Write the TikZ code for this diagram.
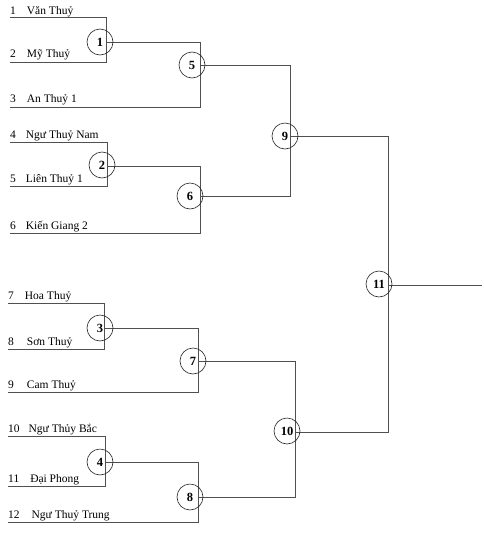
\documentclass[tikz,border=0pt]{standalone}
\usepackage{fontspec}
\setmainfont{Liberation Serif}
\usetikzlibrary{positioning}
\definecolor{linegray}{RGB}{80,80,80}
\tikzstyle{match} = [
    circle,
    minimum size=26pt,
    inner sep=0pt,
    draw=black!85,
    line width=0.6pt,
    font=\fontsize{12.5}{13}\selectfont\bfseries
]
\tikzstyle{team} = [
    anchor=base west,
    inner sep=0pt,
    font=\fontsize{11.5}{13}\selectfont
]
\tikzstyle{line} = [draw=linegray, line width=0.9pt]

\begin{document}
\begin{tikzpicture}[x=1pt, y=-1pt]
\useasboundingbox[fill=white] (0,0) rectangle (484,544);

% left ends of the team lines
\coordinate (t1) at (10,17.5);
\coordinate (t2) at (10,62);
\coordinate (t3) at (10,107);
\coordinate (t4) at (10,142);
\coordinate (t5) at (10,186);
\coordinate (t6) at (10,233);
\coordinate (t7) at (8,303);
\coordinate (t8) at (8,349);
\coordinate (t9) at (8,392);
\coordinate (t10) at (8,436);
\coordinate (t11) at (8,486);
\coordinate (t12) at (8,522);

% junctions of the bracket
\coordinate (j1) at (106,42);
\coordinate (j2) at (107,166);
\coordinate (j3) at (104,328);
\coordinate (j4) at (105,462);
\coordinate (j5) at (200,65);
\coordinate (j6) at (200,196);
\coordinate (j7) at (198,361);
\coordinate (j8) at (198,497);
\coordinate (j9) at (290,136);
\coordinate (j10) at (295,432);
\coordinate (j11) at (388,285);
\coordinate (win) at (482,285);

% team names
\node (n1) [team] at (10,14.5) {1\hspace{11pt}Văn Thuỷ};
\node (n2) [team] at (10,57.5) {2\hspace{11pt}Mỹ Thuỷ};
\node (n3) [team] at (10,102) {3\hspace{11pt}An Thuỷ 1};
\node (n4) [team] at (10,138) {4\hspace{10pt}Ngư Thuỷ Nam};
\node (n5) [team] at (10,182) {5\hspace{10pt}Liên Thuỷ 1};
\node (n6) [team] at (10,229) {6\hspace{10pt}Kiến Giang 2};
\node (n7) [team] at (8,299) {7\hspace{11pt}Hoa Thuỷ};
\node (n8) [team] at (8,345) {8\hspace{13pt}Sơn Thuỷ};
\node (n9) [team] at (8,388) {9\hspace{13pt}Cam Thuỷ};
\node (n10) [team] at (8,432) {10\hspace{9pt}Ngư Thủy Bắc};
\node (n11) [team] at (8,482) {11\hspace{11pt}Đại Phong};
\node (n12) [team] at (8,518) {12\hspace{12pt}Ngư Thuỷ Trung};

% bracket lines
\draw [line] (t1) -| (j1);
\draw [line] (t2) -| (j1);
\draw [line] (j1) -| (j5);
\draw [line] (t3) -| (j5);
\draw [line] (t4) -| (j2);
\draw [line] (t5) -| (j2);
\draw [line] (j2) -| (j6);
\draw [line] (t6) -| (j6);
\draw [line] (t7) -| (j3);
\draw [line] (t8) -| (j3);
\draw [line] (j3) -| (j7);
\draw [line] (t9) -| (j7);
\draw [line] (t10) -| (j4);
\draw [line] (t11) -| (j4);
\draw [line] (j4) -| (j8);
\draw [line] (t12) -| (j8);
\draw [line] (j5) -| (j9);
\draw [line] (j6) -| (j9);
\draw [line] (j7) -| (j10);
\draw [line] (j8) -| (j10);
\draw [line] (j9) -| (j11);
\draw [line] (j10) -| (j11);
\draw [line] (j11) -- (win);

% match circles
\node (m1) [match] at (100,42) {1};
\node (m2) [match] at (102,165) {2};
\node (m3) [match] at (100,328) {3};
\node (m4) [match] at (100,462) {4};
\node (m5) [match] at (192,65) {5};
\node (m6) [match] at (190,196) {6};
\node (m7) [match] at (193,361) {7};
\node (m8) [match] at (190,497) {8};
\node (m9) [match] at (285,136) {9};
\node (m10) [match] at (287,431) {10};
\node (m11) [match] at (379,284) {11};

\end{tikzpicture}
\end{document}
